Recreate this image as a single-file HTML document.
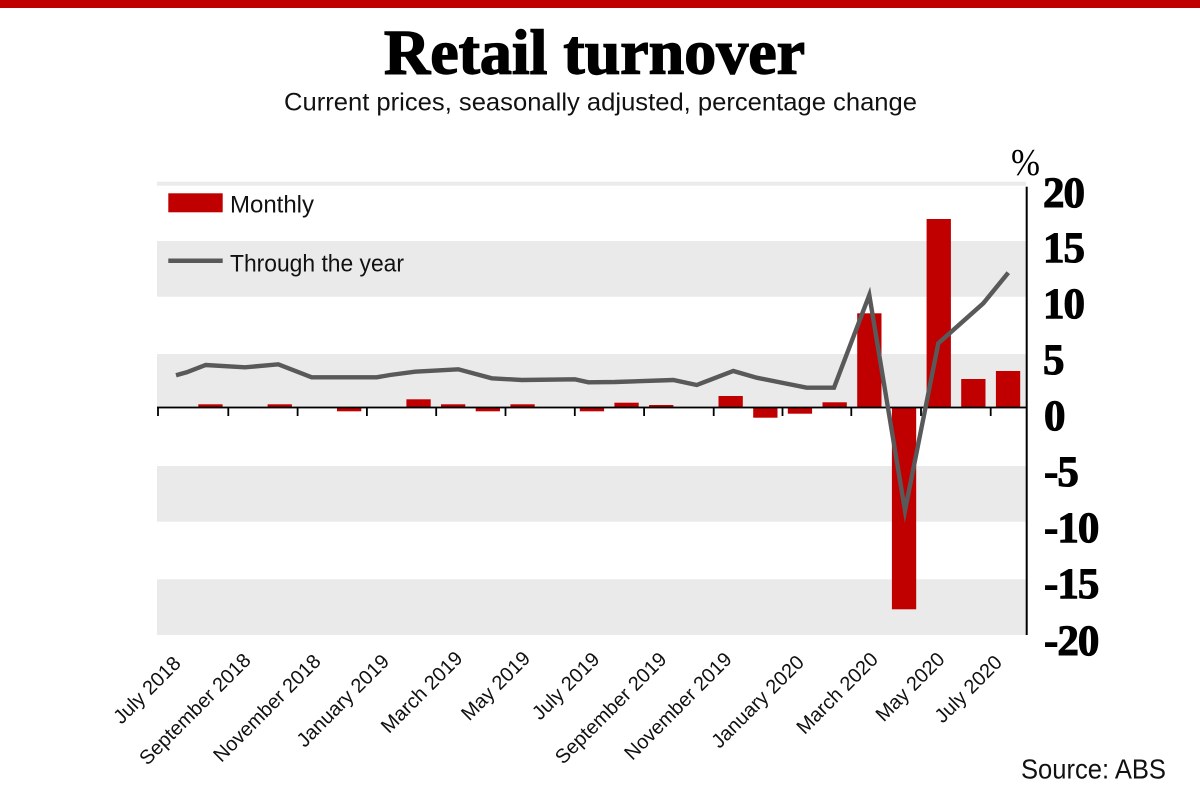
<!DOCTYPE html>
<html>
<head>
<meta charset="utf-8">
<style>
  html, body { margin: 0; padding: 0; background: #ffffff; }
  body { width: 1200px; height: 800px; overflow: hidden; }
  svg { display: block; }
  .xl { font-family: "Liberation Sans", sans-serif; font-size: 20px; fill: #111; }
  .yl { font-family: "Liberation Serif", serif; font-size: 43px; font-weight: bold; fill: #000; stroke: #000; stroke-width: 1.1px; letter-spacing: -1px; }
</style>
</head>
<body>
<svg width="1200" height="800" viewBox="0 0 1200 800" xmlns="http://www.w3.org/2000/svg">
  <!-- top red bar -->
  <rect x="0" y="0" width="1200" height="8" fill="#c00000"/>

  <!-- title -->
  <text x="384" y="73.5" font-family="Liberation Serif, serif" font-weight="bold" font-size="63" fill="#000" stroke="#000" stroke-width="1.4" textLength="421" lengthAdjust="spacingAndGlyphs">Retail turnover</text>
  <text x="284" y="110.5" font-family="Liberation Sans, sans-serif" font-size="25" fill="#111" textLength="633" lengthAdjust="spacingAndGlyphs">Current prices, seasonally adjusted, percentage change</text>

  <!-- background bands -->
  <rect x="157" y="181.7" width="869" height="4" fill="#ebebeb"/>
  <rect x="157" y="241" width="869" height="55.7" fill="#eaeaea"/>
  <rect x="157" y="354" width="869" height="53.5" fill="#eaeaea"/>
  <rect x="157" y="466" width="869" height="55.7" fill="#eaeaea"/>
  <rect x="157" y="579.3" width="869" height="55.7" fill="#eaeaea"/>

  <!-- legend -->
  <rect x="168.3" y="193.3" width="54.4" height="19" fill="#c00000"/>
  <text x="230" y="212.3" font-family="Liberation Sans, sans-serif" font-size="24" fill="#111" textLength="84" lengthAdjust="spacingAndGlyphs">Monthly</text>
  <line x1="168.3" y1="260.8" x2="222.7" y2="260.8" stroke="#595959" stroke-width="4.5"/>
  <text x="230" y="271.7" font-family="Liberation Sans, sans-serif" font-size="24" fill="#111" textLength="174" lengthAdjust="spacingAndGlyphs">Through the year</text>

  <!-- bars -->
  <g fill="#c00000">
    <rect x="198.3" y="404.3" width="24.3" height="3.2"/>
    <rect x="267.6" y="404.3" width="24.3" height="3.2"/>
    <rect x="337.0" y="407.5" width="24.3" height="3.8"/>
    <rect x="406.4" y="399.3" width="24.3" height="8.2"/>
    <rect x="441.0" y="404.3" width="24.3" height="3.2"/>
    <rect x="475.7" y="407.5" width="24.3" height="3.8"/>
    <rect x="510.4" y="404.3" width="24.3" height="3.2"/>
    <rect x="579.8" y="407.5" width="24.3" height="3.8"/>
    <rect x="614.4" y="402.7" width="24.3" height="4.8"/>
    <rect x="649.1" y="405.0" width="24.3" height="2.5"/>
    <rect x="718.5" y="396.0" width="24.3" height="11.5"/>
    <rect x="753.2" y="407.5" width="24.3" height="10.2"/>
    <rect x="787.8" y="407.5" width="24.3" height="6.2"/>
    <rect x="822.5" y="402.3" width="24.3" height="5.2"/>
    <rect x="857.2" y="313.3" width="24.3" height="94.2"/>
    <rect x="891.9" y="407.5" width="24.3" height="201.8"/>
    <rect x="926.6" y="219.0" width="24.3" height="188.5"/>
    <rect x="961.2" y="379.0" width="24.3" height="28.5"/>
    <rect x="995.9" y="371.0" width="24.3" height="36.5"/>
  </g>

  <!-- zero axis + ticks -->
  <rect x="157" y="406.6" width="870" height="1.8" fill="#000"/>
  <g stroke="#000" stroke-width="1.8">
    <line x1="158" y1="407.5" x2="158" y2="416"/>
    <line x1="228.3" y1="407.5" x2="228.3" y2="416"/>
    <line x1="297.6" y1="407.5" x2="297.6" y2="416"/>
    <line x1="366.9" y1="407.5" x2="366.9" y2="416"/>
    <line x1="436.2" y1="407.5" x2="436.2" y2="416"/>
    <line x1="505.5" y1="407.5" x2="505.5" y2="416"/>
    <line x1="574.8" y1="407.5" x2="574.8" y2="416"/>
    <line x1="644.1" y1="407.5" x2="644.1" y2="416"/>
    <line x1="713.7" y1="407.5" x2="713.7" y2="416"/>
    <line x1="782.5" y1="407.5" x2="782.5" y2="416"/>
    <line x1="851.3" y1="407.5" x2="851.3" y2="416"/>
    <line x1="921" y1="407.5" x2="921" y2="416"/>
    <line x1="990.7" y1="407.5" x2="990.7" y2="416"/>
  </g>

  <!-- right axis -->
  <rect x="1025.7" y="186.7" width="2" height="448.3" fill="#000"/>

  <!-- through the year line -->
  <polyline fill="none" stroke="#595959" stroke-width="4.4" stroke-linejoin="miter" stroke-miterlimit="6"
    points="176,375.3 186.7,372.3 205.7,365 245,367.3 278.3,364.3 311.7,377.3 376.7,377.3 390,375 415,371.7 458.3,369.3 491.7,378.3 521.7,380 575,379.3 588.3,382.3 615,382 673.3,380 696.7,385 733.3,371 756.7,377.7 806.7,387.7 834,387.7 869.3,295 905,510.7 938.3,343.3 983.3,303.3 1008.3,272.7"/>

  <!-- y axis labels -->
  <text x="1011" y="175" font-family="Liberation Serif, serif" font-size="38" fill="#000" textLength="29" lengthAdjust="spacingAndGlyphs">%</text>
  <text class="yl" x="1043" y="207">20</text>
  <text class="yl" x="1043" y="262">15</text>
  <text class="yl" x="1043" y="318">10</text>
  <text class="yl" x="1043" y="374">5</text>
  <text class="yl" x="1044" y="430">0</text>
  <text class="yl" x="1044" y="486">-5</text>
  <text class="yl" x="1044" y="542">-10</text>
  <text class="yl" x="1044" y="598">-15</text>
  <text class="yl" x="1044" y="655">-20</text>

  <!-- x axis labels -->
  <text class="xl" text-anchor="end" x="182" y="664.5" transform="rotate(-45 182 664.5)">July 2018</text>
  <text class="xl" text-anchor="end" x="252" y="661.5" transform="rotate(-45 252 661.5)">September 2018</text>
  <text class="xl" text-anchor="end" x="322" y="662.5" transform="rotate(-45 322 662.5)">November 2018</text>
  <text class="xl" text-anchor="end" x="390.4" y="662.5" transform="rotate(-45 390.4 662.5)">January 2019</text>
  <text class="xl" text-anchor="end" x="463.7" y="659.5" transform="rotate(-45 463.7 659.5)">March 2019</text>
  <text class="xl" text-anchor="end" x="531.4" y="659.5" transform="rotate(-45 531.4 659.5)">May 2019</text>
  <text class="xl" text-anchor="end" x="600.7" y="660.5" transform="rotate(-45 600.7 660.5)">July 2019</text>
  <text class="xl" text-anchor="end" x="667.7" y="660.5" transform="rotate(-45 667.7 660.5)">September 2019</text>
  <text class="xl" text-anchor="end" x="733" y="660.5" transform="rotate(-45 733 660.5)">November 2019</text>
  <text class="xl" text-anchor="end" x="805.2" y="663.5" transform="rotate(-45 805.2 663.5)">January 2020</text>
  <text class="xl" text-anchor="end" x="879.3" y="660.5" transform="rotate(-45 879.3 660.5)">March 2020</text>
  <text class="xl" text-anchor="end" x="945.9" y="660.5" transform="rotate(-45 945.9 660.5)">May 2020</text>
  <text class="xl" text-anchor="end" x="1003.3" y="663.5" transform="rotate(-45 1003.3 663.5)">July 2020</text>

  <!-- source -->
  <text x="1021" y="778.3" font-family="Liberation Sans, sans-serif" font-size="28" fill="#111" textLength="145" lengthAdjust="spacingAndGlyphs">Source: ABS</text>
</svg>
</body>
</html>
